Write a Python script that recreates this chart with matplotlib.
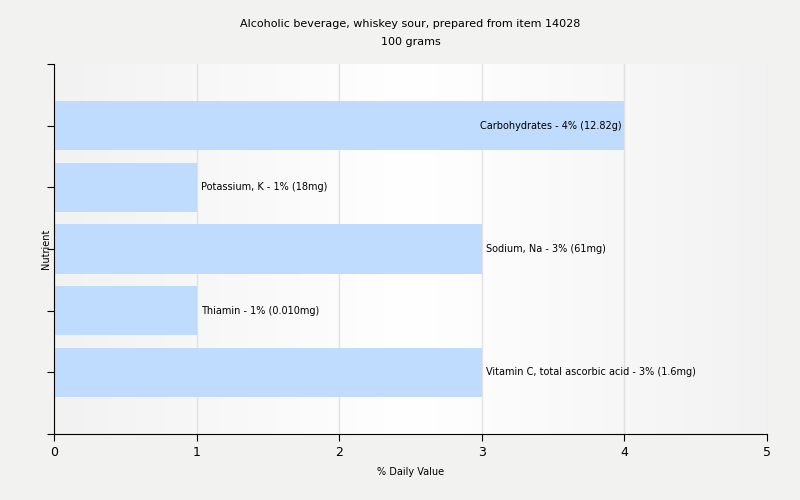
import matplotlib
matplotlib.use('Agg')
import matplotlib.pyplot as plt
from matplotlib.colors import LinearSegmentedColormap
import numpy as np

nutrients = ['Carbohydrates', 'Potassium, K', 'Sodium, Na', 'Thiamin', 'Vitamin C, total ascorbic acid']
values = [4, 1, 3, 1, 3]
amounts = ['12.82g', '18mg', '61mg', '0.010mg', '1.6mg']

bar_color = '#bfdbfd'
bg_color = '#f2f2f1'

fig = plt.figure(figsize=(8, 5), dpi=100, facecolor=bg_color)
ax = fig.add_axes([0.0675, 0.132, 0.89125, 0.74])

# background gradient: grey at the edges, white in the middle
cmap = LinearSegmentedColormap.from_list('bg', ['#ffffff', '#f2f2f2'])
grad = np.abs(np.linspace(-1, 1, 256)).reshape(1, -1)
ax.imshow(grad, extent=[0, 5, -1, 5], aspect='auto', cmap=cmap,
          vmin=0, vmax=1, zorder=0, interpolation='bicubic')

n = len(nutrients)
pos = np.arange(n)[::-1]
ax.barh(pos, values, height=0.8, color=bar_color, zorder=2)

for p, v, name, amt in zip(pos, values, nutrients, amounts):
    label = f'{name} - {v}% ({amt})'
    if v >= 4:
        ax.text(v - 0.02, p, label, ha='right', va='center', fontsize=7, zorder=3)
    else:
        ax.text(v + 0.03, p, label, ha='left', va='center', fontsize=7, zorder=3)

ax.set_xlim(0, 5)
ax.set_ylim(-1, 5)
ax.set_xticks(range(6))
ax.set_yticks(range(-1, 6))
ax.set_yticklabels([])
ax.grid(axis='x', color='#e2e2e2', linewidth=1, zorder=1)
ax.set_axisbelow(True)
for s in ['top', 'right']:
    ax.spines[s].set_visible(False)
ax.tick_params(axis='both', length=5, labelsize=9)
ax.set_xlabel('% Daily Value', fontsize=7, labelpad=6)
ax.set_ylabel('Nutrient', fontsize=7, labelpad=-6)
ax.set_title('Alcoholic beverage, whiskey sour, prepared from item 14028\n100 grams',
             fontsize=8, pad=14, linespacing=1.95)

fig.savefig('out.png', dpi=100, facecolor=bg_color)
